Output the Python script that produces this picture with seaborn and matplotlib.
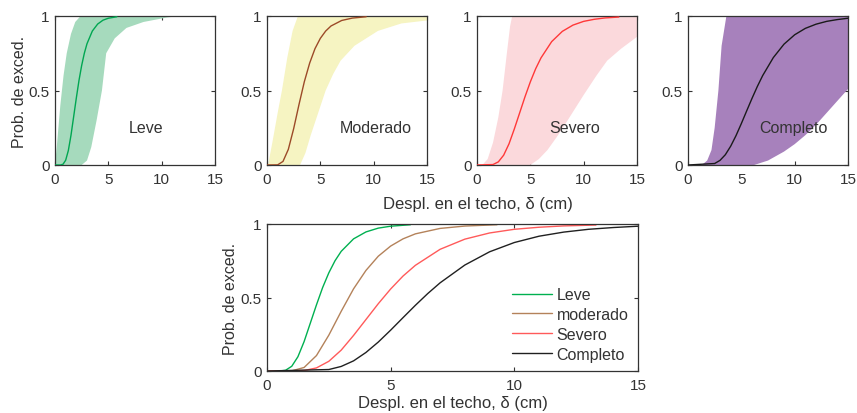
import numpy as np
import matplotlib
matplotlib.use("Agg")
import matplotlib.pyplot as plt
import seaborn as sns

# ================================
# Data
# ================================
states = ["Leve", "Moderado", "Severo", "Completo"]
legend_labels = ["Leve", "moderado", "Severo", "Completo"]

# mean fragility curves
leve_x = [0, 0.5, 0.75, 1, 1.25, 1.5, 1.75, 2, 2.25, 2.5, 2.75, 3, 3.5, 4, 4.5, 5, 5.8]
leve_y = [0, 0, 0.005, 0.032, 0.097, 0.20, 0.325, 0.45, 0.568, 0.668, 0.75, 0.814, 0.899, 0.946, 0.972, 0.985, 0.995]

mod_x = [0, 1, 1.5, 2, 2.5, 3, 3.5, 4, 4.5, 5, 5.5, 6, 7, 8, 9.3]
mod_y = [0, 0.001, 0.024, 0.105, 0.244, 0.406, 0.559, 0.684, 0.781, 0.850, 0.899, 0.933, 0.970, 0.986, 0.995]

sev_x = [0, 1.5, 2, 2.5, 3, 3.5, 4, 4.5, 5, 5.5, 6, 7, 8, 9, 10, 11, 12, 13.3]
sev_y = [0, 0.003, 0.021, 0.066, 0.142, 0.242, 0.350, 0.458, 0.558, 0.646, 0.719, 0.828, 0.897, 0.939, 0.964, 0.978, 0.987, 0.993]

com_x = [0, 2.5, 3, 3.5, 4, 4.5, 5, 5.5, 6, 6.5, 7, 8, 9, 10, 11, 12, 13, 14, 15]
com_y = [0, 0.010, 0.031, 0.069, 0.126, 0.197, 0.278, 0.363, 0.447, 0.527, 0.600, 0.721, 0.811, 0.874, 0.917, 0.945, 0.964, 0.976, 0.985]

# envelopes of the simulated curve bundles (left / right edge)
leve_left_x = [0, 0.2, 0.5, 0.8, 1.1, 1.5, 1.9, 2.4]
leve_left_y = [0, 0.15, 0.4, 0.6, 0.75, 0.88, 0.96, 1.0]
leve_right_x = [2.5, 3.0, 3.4, 3.9, 4.4, 4.8, 5.6, 6.7, 8.3, 10.5, 11.7]
leve_right_y = [0, 0.03, 0.12, 0.3, 0.5, 0.75, 0.85, 0.92, 0.96, 0.99, 1.0]

mod_left_x = [0.1, 0.5, 1.0, 1.4, 1.9, 2.4, 2.9]
mod_left_y = [0, 0.15, 0.35, 0.5, 0.72, 0.9, 1.0]
mod_right_x = [3.1, 3.6, 4.1, 4.8, 5.5, 6.2, 6.9, 8.2, 10.4, 12.6, 15, 15]
mod_right_y = [0, 0.08, 0.2, 0.35, 0.5, 0.61, 0.7, 0.8, 0.9, 0.95, 0.97, 1.0]

sev_left_x = [0.5, 1.0, 1.5, 2.0, 2.4, 2.8, 3.1, 3.3]
sev_left_y = [0, 0.04, 0.15, 0.32, 0.5, 0.75, 0.93, 1.0]
sev_right_x = [5.0, 5.8, 6.6, 7.5, 8.5, 10.0, 11.2, 12.2, 13.5, 15, 15]
sev_right_y = [0, 0.04, 0.1, 0.19, 0.3, 0.47, 0.6, 0.7, 0.78, 0.86, 1.0]

com_left_x = [1.3, 1.8, 2.2, 2.5, 2.85, 3.15, 3.6]
com_left_y = [0, 0.03, 0.1, 0.25, 0.5, 0.8, 1.0]
com_right_x = [6.2, 7.5, 9, 10, 11, 12, 13, 14, 15, 15]
com_right_y = [0, 0.03, 0.09, 0.14, 0.2, 0.27, 0.35, 0.43, 0.51, 1.0]

# text label positions inside the top panels
label_x = [8.5, 10.2, 9.2, 9.9]

band_colors = ["#a6dabd", "#f6f4c2", "#fbd9dc", "#a781bc"]
mean_colors = ["#00a651", "#9c4a28", "#ff3838", "#1a1a1a"]
bottom_colors = ["#00b050", "#b4825a", "#ff5a5a", "#202020"]

means = [(leve_x, leve_y), (mod_x, mod_y), (sev_x, sev_y), (com_x, com_y)]
bands = [
    (leve_left_x, leve_left_y, leve_right_x, leve_right_y),
    (mod_left_x, mod_left_y, mod_right_x, mod_right_y),
    (sev_left_x, sev_left_y, sev_right_x, sev_right_y),
    (com_left_x, com_left_y, com_right_x, com_right_y),
]

# ================================
# Style
# ================================
sns.set_theme(style="ticks")
plt.rcParams['font.family'] = ['Liberation Sans', 'DejaVu Sans']
text_col = "#333333"
plt.rcParams.update({
    "axes.edgecolor": text_col,
    "axes.linewidth": 0.9,
    "xtick.color": text_col,
    "ytick.color": text_col,
    "xtick.labelcolor": text_col,
    "ytick.labelcolor": text_col,
    "text.color": text_col,
    "axes.labelcolor": text_col,
    "xtick.direction": "in",
    "ytick.direction": "in",
    "xtick.major.size": 3,
    "ytick.major.size": 3,
    "xtick.major.pad": 5,
    "ytick.major.pad": 4,
})


def style_axis(ax):
    ax.set_xlim(0, 15)
    ax.set_ylim(0, 1)
    ax.set_xticks([0, 5, 10, 15])
    ax.set_yticks([0, 0.5, 1])
    ax.set_yticklabels(["0", "0.5", "1"])
    ax.tick_params(labelsize=11, top=True, right=True, width=0.8)


fig = plt.figure(figsize=(8.57, 4.14), dpi=100)
W, H = 857, 414

# ================================
# Top row: bundles + mean curve
# ================================
lefts = [55, 267, 477, 688]
for i, left in enumerate(lefts):
    ax = fig.add_axes([left / W, 1 - 166 / H, 160 / W, 149 / H])
    lx, ly, rx, ry = bands[i]
    poly_x = np.concatenate([lx, rx[::-1]])
    poly_y = np.concatenate([ly, ry[::-1]])
    ax.fill(poly_x, poly_y, color=band_colors[i], lw=0, zorder=1)
    sns.lineplot(x=means[i][0], y=means[i][1], ax=ax, color=mean_colors[i],
                 lw=1.0, sort=False, estimator=None, zorder=3)
    ax.text(label_x[i], 0.25, states[i], ha="center", va="center", fontsize=11.5, zorder=4)
    style_axis(ax)
    ax.set_xlabel("")
    ax.set_ylabel("")
    if i == 0:
        ax.set_ylabel("Prob. de exced.", fontsize=11.5, labelpad=1)

fig.text(478 / W, 1 - 205 / H, "Despl. en el techo, δ (cm)", ha="center", va="center", fontsize=12)

# ================================
# Bottom: all mean curves together
# ================================
axb = fig.add_axes([267 / W, 1 - 372 / H, 371 / W, 147 / H])
for i in range(4):
    sns.lineplot(x=means[i][0], y=means[i][1], ax=axb, color=bottom_colors[i],
                 lw=1.0, sort=False, estimator=None, label=legend_labels[i])
style_axis(axb)
axb.set_xlabel("Despl. en el techo, δ (cm)", fontsize=12, labelpad=2)
axb.set_ylabel("Prob. de exced.", fontsize=11.5, labelpad=2)
axb.legend(loc="upper left", bbox_to_anchor=(0.66, 0.57), frameon=False, fontsize=11.5,
           handlelength=2.5, handletextpad=0.3, labelspacing=0.3, borderpad=0,
           borderaxespad=0)

fig.savefig("out.png", dpi=100)
